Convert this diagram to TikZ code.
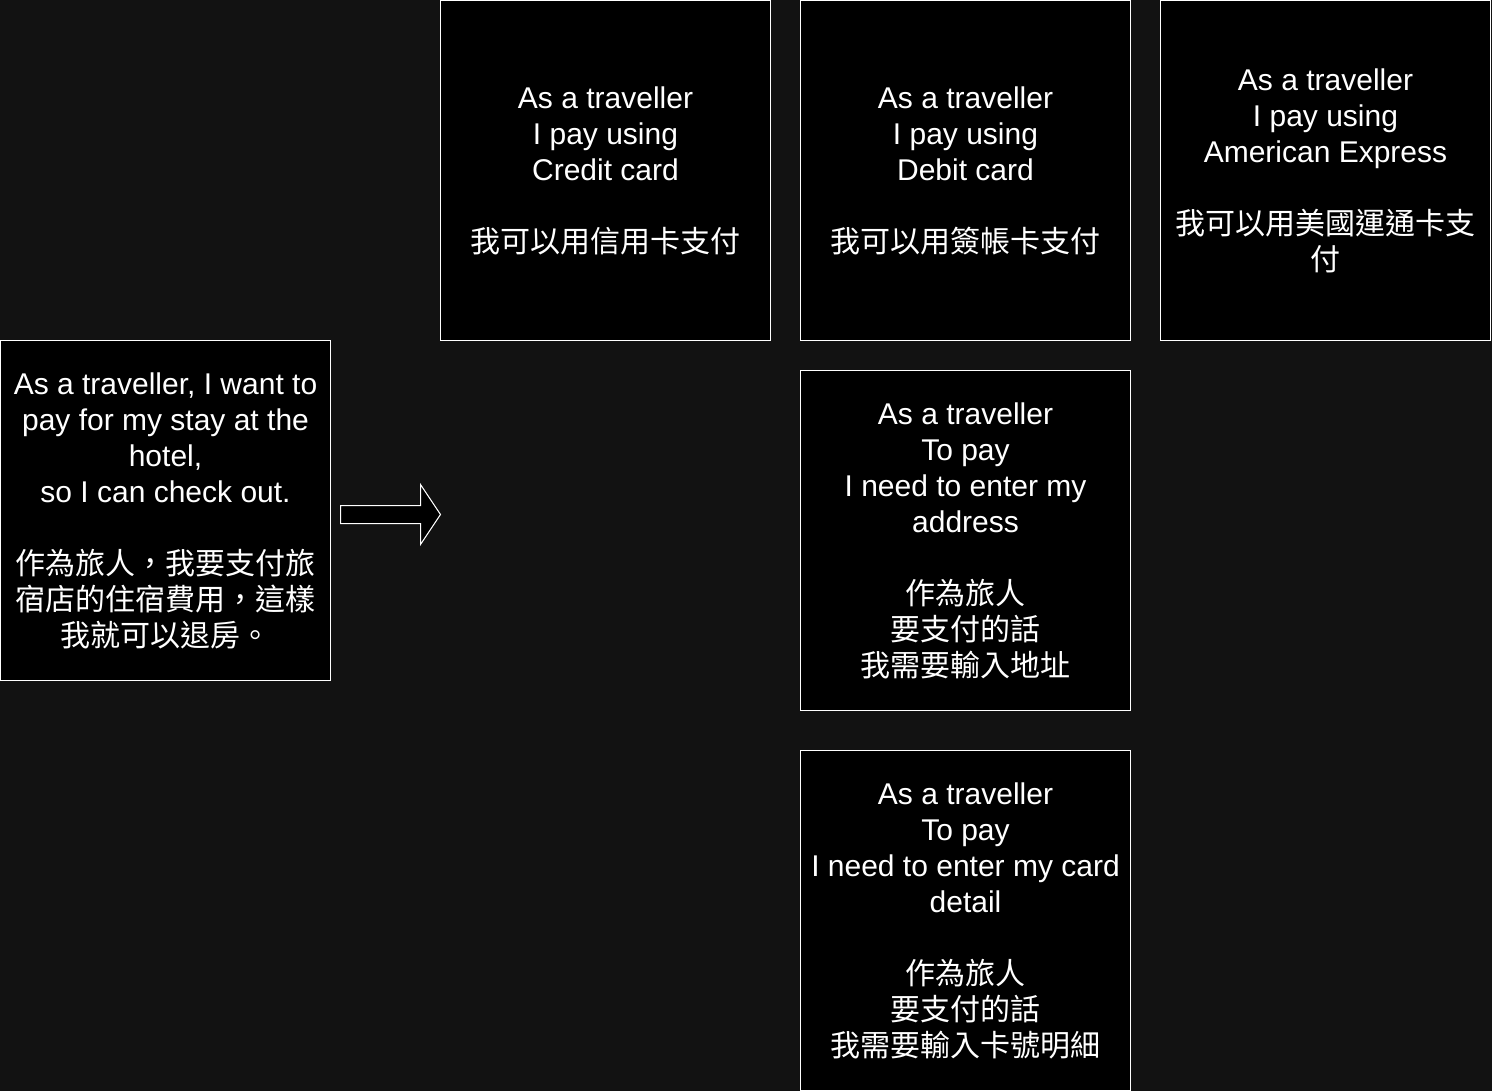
\documentclass[tikz,border=0pt]{standalone}
\usepackage{fontspec}
\setmainfont{Liberation Sans}
\newfontfamily\cjk[Script=CJK, Language=Chinese Traditional]{Noto Sans CJK TC}
\definecolor{pagebg}{HTML}{121212}

\begin{document}
\begin{tikzpicture}[x=0.75pt,y=-0.75pt]
    \tikzstyle{every node}+=[inner sep=0pt]
    \tikzstyle{story}=[draw=white, fill=black, line width=0.75pt, minimum width=247.5pt, minimum height=255pt, text=white, align=center, font=\fontsize{22.5}{27}\selectfont]
    \fill [pagebg] (0,0) rectangle (1492,1091);
    \useasboundingbox (0,0) rectangle (1492,1091);
    % main story
    \node [story] (goal) at (165.5,510.5) {As a traveller, I want to\\pay for my stay at the\\hotel,\\so I can check out.\\[27pt]{\cjk 作為旅人，我要支付旅}\\{\cjk 宿店的住宿費用，這樣}\\{\cjk 我就可以退房。}};
    % split stories
    \node [story] (credit) at (605.5,170.5) {As a traveller\\I pay using\\Credit card\\[27pt]{\cjk 我可以用信用卡支付}};
    \node [story] (debit) at (965.5,170.5) {As a traveller\\I pay using\\Debit card\\[27pt]{\cjk 我可以用簽帳卡支付}};
    \node [story] (amex) at (1325.5,170.5) {As a traveller\\I pay using\\American Express\\[27pt]{\cjk 我可以用美國運通卡支}\\{\cjk 付}};
    \node [story] (address) at (965.5,540.5) {As a traveller\\To pay\\I need to enter my\\address\\[27pt]{\cjk 作為旅人}\\{\cjk 要支付的話}\\{\cjk 我需要輸入地址}};
    \node [story] (carddetail) at (965.5,920.5) {As a traveller\\To pay\\I need to enter my card\\detail\\[27pt]{\cjk 作為旅人}\\{\cjk 要支付的話}\\{\cjk 我需要輸入卡號明細}};
    % block arrow
    \draw [white, fill=black, line width=0.75pt] (340.5,505.5) -- (420.5,505.5) -- (420.5,484.5) -- (440.5,514.5) -- (420.5,544.5) -- (420.5,523.5) -- (340.5,523.5) -- cycle;
\end{tikzpicture}
\end{document}
